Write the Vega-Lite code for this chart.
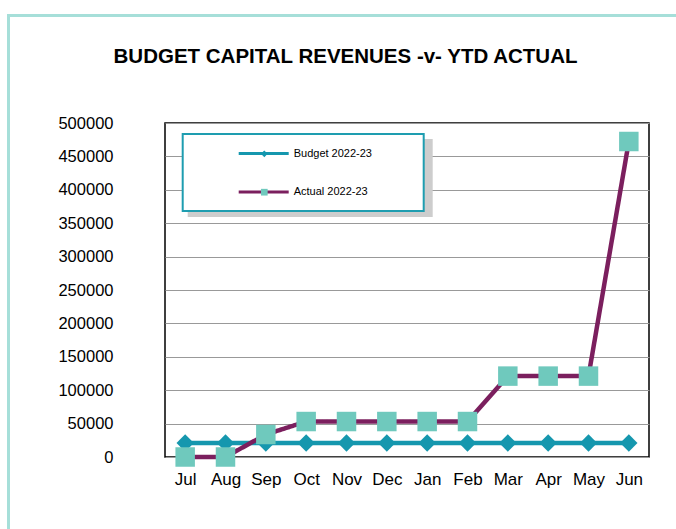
{
  "$schema": "https://vega.github.io/schema/vega-lite/v6.json",
  "width": 484,
  "height": 334,
  "autosize": {"type": "none"},
  "padding": {"left": 165, "top": 123, "right": 27, "bottom": 72},
  "background": "white",
  "title": {
    "text": "BUDGET CAPITAL REVENUES -v- YTD ACTUAL",
    "font": "Liberation Sans",
    "fontSize": 20.5,
    "fontWeight": "bold",
    "color": "#000000",
    "anchor": "middle",
    "frame": "group",
    "dx": -61.5,
    "baseline": "alphabetic",
    "offset": -69
  },
  "config": {
    "font": "Liberation Sans",
    "view": {"stroke": "#000000", "strokeWidth": 1.5}
  },
  "data": {
    "values": [
      {"month": "Jul", "series": "Budget 2022-23", "value": 21000},
      {"month": "Aug", "series": "Budget 2022-23", "value": 21000},
      {"month": "Sep", "series": "Budget 2022-23", "value": 21000},
      {"month": "Oct", "series": "Budget 2022-23", "value": 21000},
      {"month": "Nov", "series": "Budget 2022-23", "value": 21000},
      {"month": "Dec", "series": "Budget 2022-23", "value": 21000},
      {"month": "Jan", "series": "Budget 2022-23", "value": 21000},
      {"month": "Feb", "series": "Budget 2022-23", "value": 21000},
      {"month": "Mar", "series": "Budget 2022-23", "value": 21000},
      {"month": "Apr", "series": "Budget 2022-23", "value": 21000},
      {"month": "May", "series": "Budget 2022-23", "value": 21000},
      {"month": "Jun", "series": "Budget 2022-23", "value": 21000},
      {"month": "Jul", "series": "Actual 2022-23", "value": 0},
      {"month": "Aug", "series": "Actual 2022-23", "value": 0},
      {"month": "Sep", "series": "Actual 2022-23", "value": 33700},
      {"month": "Oct", "series": "Actual 2022-23", "value": 53100},
      {"month": "Nov", "series": "Actual 2022-23", "value": 53100},
      {"month": "Dec", "series": "Actual 2022-23", "value": 53100},
      {"month": "Jan", "series": "Actual 2022-23", "value": 53100},
      {"month": "Feb", "series": "Actual 2022-23", "value": 53100},
      {"month": "Mar", "series": "Actual 2022-23", "value": 121100},
      {"month": "Apr", "series": "Actual 2022-23", "value": 121100},
      {"month": "May", "series": "Actual 2022-23", "value": 121100},
      {"month": "Jun", "series": "Actual 2022-23", "value": 472300}
    ]
  },
  "encoding": {
    "x": {
      "field": "month",
      "type": "ordinal",
      "sort": ["Jul", "Aug", "Sep", "Oct", "Nov", "Dec", "Jan", "Feb", "Mar", "Apr", "May", "Jun"],
      "axis": {
        "title": null,
        "labelAngle": 0,
        "labelFontSize": 17,
        "labelColor": "#000000",
        "labelPadding": 14,
        "domain": false,
        "ticks": false,
        "grid": false
      }
    },
    "y": {
      "field": "value",
      "type": "quantitative",
      "scale": {"domain": [0, 500000], "nice": false},
      "axis": {
        "title": null,
        "values": [0, 50000, 100000, 150000, 200000, 250000, 300000, 350000, 400000, 450000, 500000],
        "format": "d",
        "labelFontSize": 16.5,
        "labelColor": "#000000",
        "labelPadding": 52,
        "domain": false,
        "ticks": false,
        "grid": true,
        "gridColor": "#999999",
        "gridWidth": 1.2
      }
    }
  },
  "layer": [
    {
      "mark": {"type": "line", "strokeWidth": 4.5},
      "encoding": {
        "stroke": {
          "field": "series",
          "type": "nominal",
          "scale": {"domain": ["Budget 2022-23", "Actual 2022-23"], "range": ["#1597ae", "#7b1f5e"]},
          "legend": {
            "orient": "none",
            "legendX": 17.7,
            "legendY": 11,
            "title": "\u00a0",
            "titleOrient": "right",
            "titleFontSize": 11,
            "titlePadding": 39,
            "padding": 13,
            "rowPadding": 25.5,
            "fillColor": "#ffffff",
            "strokeColor": "#1e9db0",
            "symbolType": "M-5,0H5",
            "symbolSize": 100,
            "symbolStrokeWidth": 3,
            "symbolOffset": 61.5,
            "labelOffset": 23.5,
            "labelFontSize": 11,
            "labelColor": "#000000",
            "labelFont": "Liberation Sans",
            "zindex": 1,
            "encode": {"legend": {"update": {"strokeWidth": {"value": 2}}}}
          }
        },
        "strokeDash": {
          "field": "series",
          "type": "nominal",
          "scale": {"domain": ["Actual 2022-23", "Budget 2022-23"], "range": [[1, 0], [1, 0]]},
          "legend": {
            "orient": "none",
            "legendX": -156.5,
            "legendY": -107.5,
            "title": null,
            "padding": 340,
            "strokeColor": "#a6dfd9",
            "labelExpr": "''",
            "symbolOpacity": 0,
            "zindex": 0,
            "encode": {"legend": {"update": {"strokeWidth": {"value": 3}}}}
          }
        }
      }
    },
    {
      "mark": {"type": "point", "filled": true},
      "encoding": {
        "color": {
          "field": "series",
          "type": "nominal",
          "sort": ["Budget 2022-23", "Actual 2022-23"],
          "scale": {"range": ["#1597ae", "#6fc9bd"]},
          "legend": null
        },
        "shape": {
          "field": "series",
          "type": "nominal",
          "sort": ["Budget 2022-23", "Actual 2022-23"],
          "scale": {"range": ["diamond", "square"]},
          "legend": {
            "orient": "none",
            "legendX": 17.7,
            "legendY": 11,
            "title": null,
            "padding": 14.8,
            "rowPadding": 28.4,
            "symbolSize": 45,
            "symbolStrokeWidth": 0,
            "symbolOffset": 61.8,
            "symbolOpacity": 1,
            "symbolFillColor": "#6fc9bd",
            "labelExpr": "''",
            "zindex": 2,
            "encode": {"symbols": {"update": {"fill": {"signal": "scale('color', datum.value)"}, "fillOpacity": {"value": 1}}}}
          }
        },
        "opacity": {
          "field": "series",
          "type": "ordinal",
          "sort": "descending",
          "scale": {"range": [1, 1]},
          "legend": {
            "orient": "none",
            "legendX": 22.7,
            "legendY": 16,
            "title": null,
            "padding": 14.8,
            "rowPadding": 28.4,
            "symbolSize": 45,
            "symbolStrokeWidth": 0,
            "symbolOffset": 205.4,
            "symbolOpacity": 0,
            "labelOffset": 0,
            "labelExpr": "''",
            "fillColor": "#cdcdcd",
            "zindex": 0
          }
        },
        "size": {
          "field": "series",
          "type": "nominal",
          "sort": ["Budget 2022-23", "Actual 2022-23"],
          "scale": {"range": [300, 380]},
          "legend": null
        }
      }
    }
  ]
}
